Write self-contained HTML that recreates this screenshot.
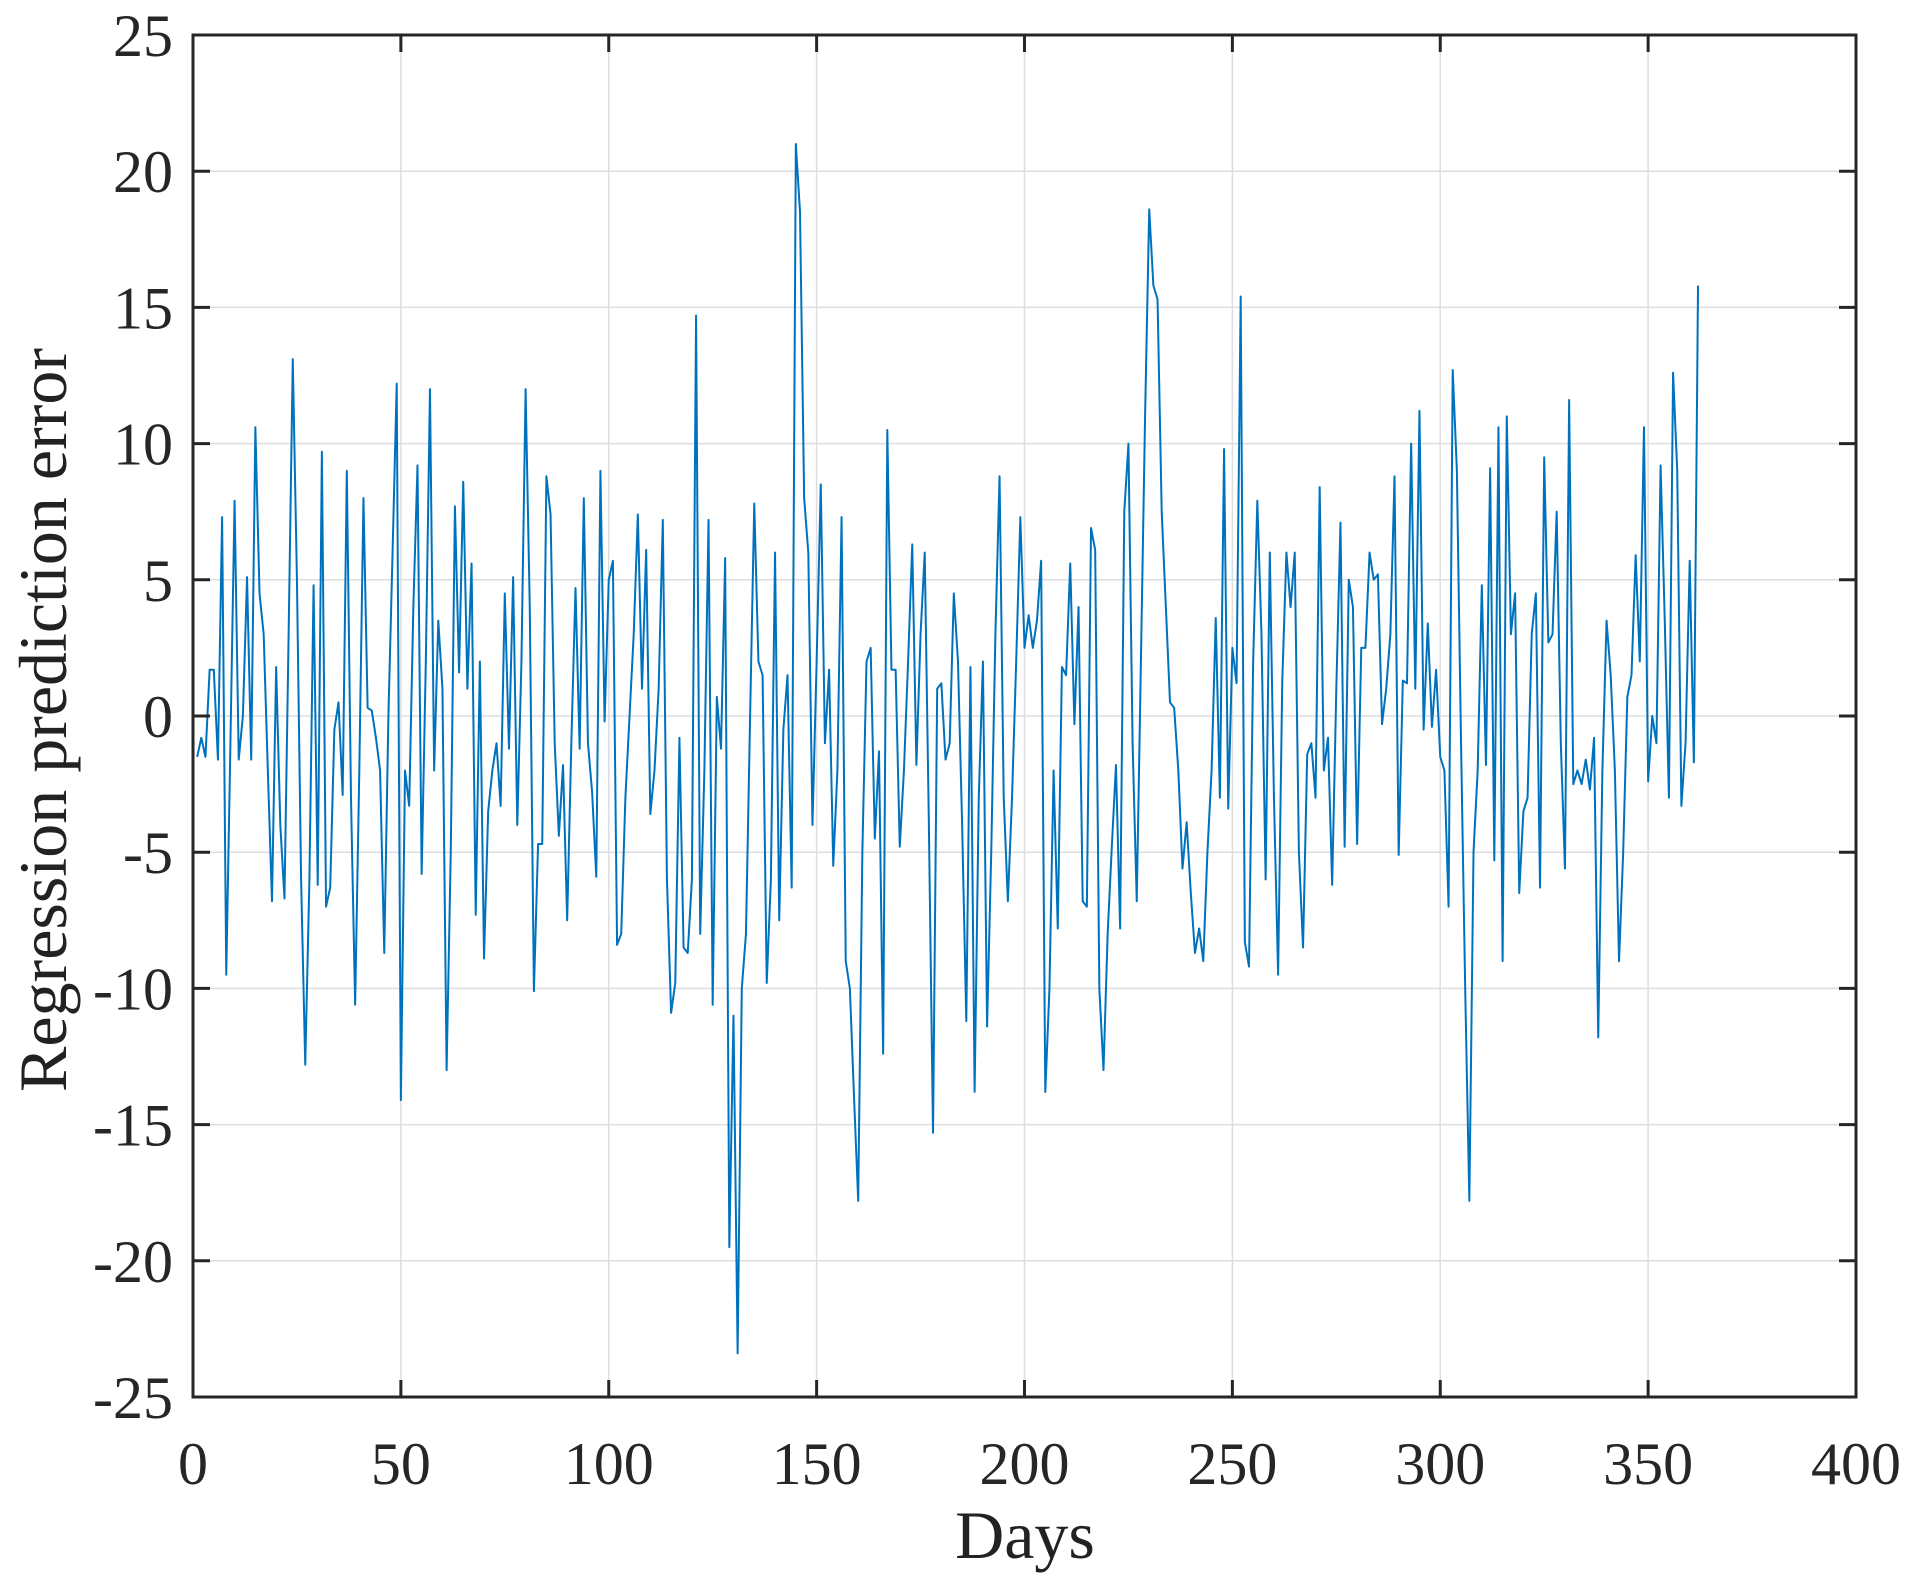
<!DOCTYPE html>
<html><head><meta charset="utf-8"><style>
html,body{margin:0;padding:0;background:#fff;}
svg{display:block;font-family:"Liberation Serif",serif;}
</style></head><body>
<svg id="chart" width="1923" height="1593" viewBox="0 0 1923 1593" xmlns="http://www.w3.org/2000/svg">
<g id="grid"></g>
<g id="series"></g>
<g id="axes"></g>
<text x="1025" y="1558" font-size="68" text-anchor="middle" fill="#222">Days</text>
<text x="0" y="0" font-size="68" text-anchor="middle" fill="#222" transform="translate(66,720) rotate(-90)">Regression prediction error</text>
</svg>
<script>
const xTicks=[0,50,100,150,200,250,300,350,400];
const yTicks=[25,20,15,10,5,0,-5,-10,-15,-20,-25];
const errors=[-1.5,-0.8,-1.5,1.7,1.7,-1.6,7.3,-9.5,-1,7.9,-1.6,0,5.1,-1.6,10.6,4.5,3,-2,-6.8,1.8,-4,-6.7,3,13.1,5,-6,-12.8,-6,4.8,-6.2,9.7,-7,-6.3,-0.5,0.5,-2.9,9,-3,-10.6,-2,8,0.3,0.2,-0.8,-2,-8.7,0,6,12.2,-14.1,-2,-3.3,4,9.2,-5.8,2,12,-2,3.5,1,-13,-5,7.7,1.6,8.6,1,5.6,-7.3,2,-8.9,-3.5,-2,-1,-3.3,4.5,-1.2,5.1,-4,2,12,4,-10.1,-4.7,-4.7,8.8,7.4,-1,-4.4,-1.8,-7.5,-1,4.7,-1.2,8,-1,-2.8,-5.9,9,-0.2,5,5.7,-8.4,-8,-3,0,3,7.4,1,6.1,-3.6,-2,1,7.2,-6,-10.9,-9.8,-0.8,-8.5,-8.7,-6,14.7,-8,-2,7.2,-10.6,0.7,-1.2,5.8,-19.5,-11,-23.4,-10,-8,0,7.8,2,1.5,-9.8,-6,6,-7.5,-0.5,1.5,-6.3,21,18.5,8,6,-4,2,8.5,-1,1.7,-5.5,-2,7.3,-9,-10,-14,-17.8,-5,2,2.5,-4.5,-1.3,-12.4,10.5,1.7,1.7,-4.8,-2,2,6.3,-1.8,3,6,-4,-15.3,1,1.2,-1.6,-1,4.5,2,-4,-11.2,1.8,-13.8,-3,2,-11.4,-5,3,8.8,-3,-6.8,-3,2,7.3,2.5,3.7,2.5,3.5,5.7,-13.8,-10,-2,-7.8,1.8,1.5,5.6,-0.3,4,-6.8,-7,6.9,6.1,-10,-13,-8,-4.8,-1.8,-7.8,7.5,10,-1,-6.8,2,11,18.6,15.8,15.3,7.5,4,0.5,0.3,-2,-5.6,-3.9,-6.5,-8.7,-7.8,-9,-5,-2,3.6,-3,9.8,-3.4,2.5,1.2,15.4,-8.3,-9.2,2,7.9,3,-6,6,-3,-9.5,1.3,6,4,6,-5,-8.5,-1.4,-1,-3,8.4,-2,-0.8,-6.2,1,7.1,-4.8,5,4,-4.7,2.5,2.5,6,5,5.2,-0.3,1,3,8.8,-5.1,1.3,1.2,10,1,11.2,-0.5,3.4,-0.4,1.7,-1.5,-2,-7,12.7,9,-1,-10,-17.8,-5,-2,4.8,-1.8,9.1,-5.3,10.6,-9,11,3,4.5,-6.5,-3.5,-3,3,4.5,-6.3,9.5,2.7,3,7.5,-1,-5.6,11.6,-2.5,-2,-2.5,-1.6,-2.7,-0.8,-11.8,-2,3.5,1.5,-2,-9,-5,0.7,1.5,5.9,2,10.6,-2.4,0,-1,9.2,3.5,-3,12.6,9,-3.3,-1,5.7,-1.7,15.8];
const L=193,R=1856,T=35,B=1397;
const xs=v=>L+(v-0)/(400-0)*(R-L);
const ys=v=>B-(v+25)/50*(B-T);
const NS="http://www.w3.org/2000/svg";
function mk(tag,attrs,parent){const e=document.createElementNS(NS,tag);for(const k in attrs)e.setAttribute(k,attrs[k]);parent.appendChild(e);return e;}
const grid=document.getElementById('grid'),axes=document.getElementById('axes'),ser=document.getElementById('series');
xTicks.forEach(t=>{
  const x=xs(t);
  const g=mk('line',{x1:x,x2:x,y1:T,y2:B,stroke:'#dedede','stroke-width':1.5},grid);
  
  
  const tk=mk('line',{x1:x,x2:x,y1:B,y2:B-17,stroke:'#262626','stroke-width':3},axes);
  
  
  const tk2=mk('line',{x1:x,x2:x,y1:T,y2:T+17,stroke:'#262626','stroke-width':3},axes);
  
  
  const lb=mk('text',{x:x,y:1484,'font-size':60,'text-anchor':'middle',fill:'#262626'},axes);
  lb.textContent=t;
  
  
});
yTicks.forEach(t=>{
  const y=ys(t);
  const g=mk('line',{x1:L,x2:R,y1:y,y2:y,stroke:'#dedede','stroke-width':1.5},grid);
  
  
  const tk=mk('line',{x1:L,x2:L+17,y1:y,y2:y,stroke:'#262626','stroke-width':3},axes);
  
  
  const tk2=mk('line',{x1:R,x2:R-17,y1:y,y2:y,stroke:'#262626','stroke-width':3},axes);
  
  
  const lb=mk('text',{x:173,y:y+21,'font-size':60,'text-anchor':'end',fill:'#262626'},axes);
  lb.textContent=t;
  
  
});
const fr=mk('rect',{x:L,y:T,width:R-L,height:B-T,fill:'none',stroke:'#262626','stroke-width':3},axes);


const pts=errors.map((v,i)=>xs(i+1).toFixed(2)+','+ys(v).toFixed(2)).join(' ');
const pl=mk('polyline',{points:pts,fill:'none',stroke:'#0072BD','stroke-width':2,'stroke-linejoin':'round'},ser);


</script>
</body></html>
